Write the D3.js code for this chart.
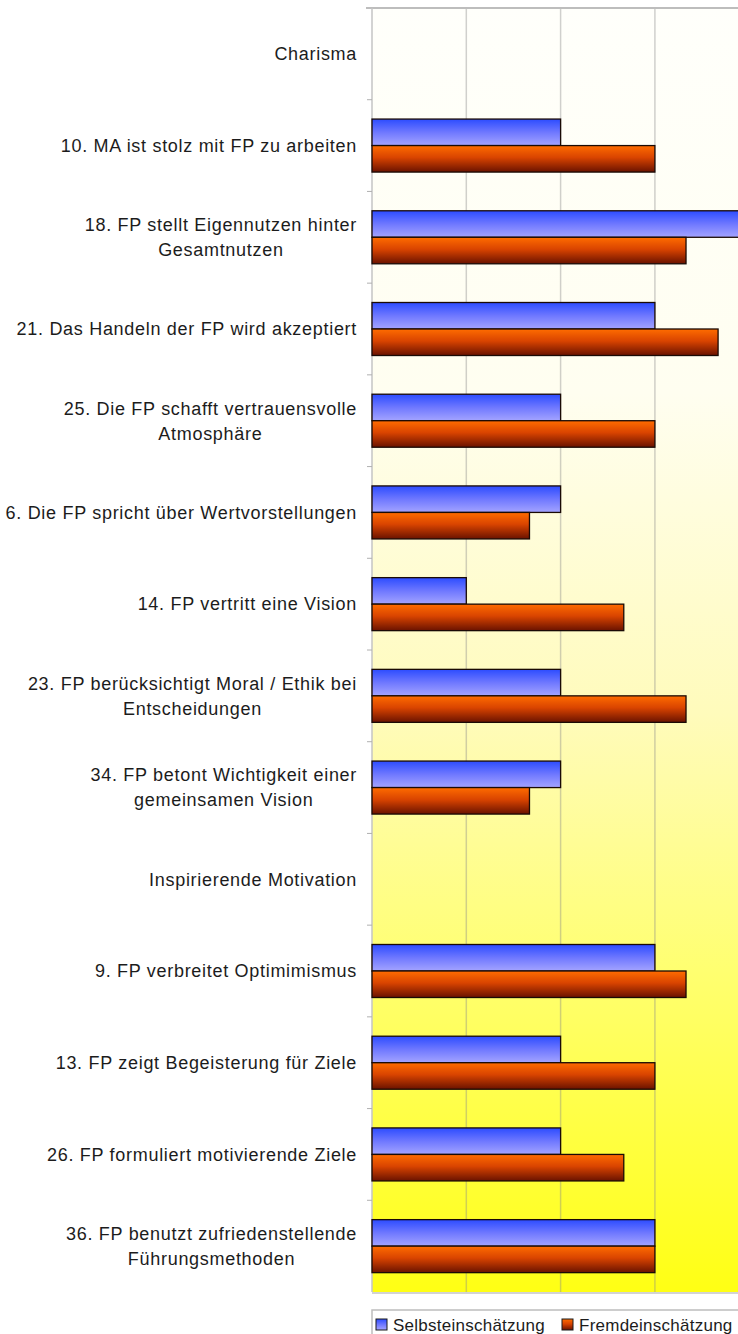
<!DOCTYPE html>
<html>
<head>
<meta charset="utf-8">
<script src="https://cdn.jsdelivr.net/npm/d3@7"></script>
<style>
  html, body { margin: 0; padding: 0; background: #ffffff; }
  svg { display: block; }
  text { font-family: "Liberation Sans", Arial, sans-serif; }
</style>
</head>
<body>
<svg id="chart" width="738" height="1334"></svg>
<script>
// Items of the questionnaire (group headings have no bars)
const categories = [
  ["Charisma"],
  ["10. MA ist stolz mit FP zu arbeiten"],
  ["18. FP stellt Eigennutzen hinter", "Gesamtnutzen"],
  ["21. Das Handeln der FP wird akzeptiert"],
  ["25. Die FP schafft vertrauensvolle", "Atmosphäre"],
  ["6. Die FP spricht über Wertvorstellungen"],
  ["14. FP vertritt eine Vision"],
  ["23. FP berücksichtigt Moral / Ethik bei", "Entscheidungen"],
  ["34. FP betont Wichtigkeit einer", "gemeinsamen Vision"],
  ["Inspirierende Motivation"],
  ["9. FP verbreitet Optimimismus"],
  ["13. FP zeigt Begeisterung für Ziele"],
  ["26. FP formuliert motivierende Ziele"],
  ["36. FP benutzt zufriedenstellende", "Führungsmethoden"]
];
const seriesNames = ["Selbsteinschätzung", "Fremdeinschätzung"];
const selbst = [null, 2, 4, 3, 2, 2, 1, 2, 2, null, 3, 2, 2, 3];
const fremd  = [null, 3, 3.33, 3.67, 3, 1.67, 2.67, 3.33, 1.67, null, 3.33, 3, 2.67, 3];
const xTicks = [0, 1, 2, 3, 4];

const svg = d3.select("#chart");
const W = 738;
const plot = { left: 372, top: 8, bottom: 1292 };

const x = d3.scaleLinear().domain([0, 4]).range([plot.left, plot.left + 4 * 94.3]);
const y = d3.scaleBand().domain(d3.range(categories.length)).range([plot.top, plot.bottom]).padding(0);
const sub = d3.scaleBand().domain(seriesNames).range([0, y.bandwidth()]).paddingInner(0).paddingOuter(0.73);

const defs = svg.append("defs");
const bg = defs.append("linearGradient").attr("id", "bgGrad").attr("x1", 0).attr("y1", 0).attr("x2", 0).attr("y2", 1);
[[0, "#fffffb"], [0.3, "#fffef0"], [0.55, "#fffbbb"], [0.75, "#ffff70"], [1, "#ffff14"]]
  .forEach(([o, c]) => bg.append("stop").attr("offset", o).attr("stop-color", c));

const gBlue = defs.append("linearGradient").attr("id", "gradSelbst").attr("x1", 0).attr("y1", 0).attr("x2", 0).attr("y2", 1);
[[0, "#2c4cff"], [0.5, "#6f78ff"], [1, "#a4a4ff"]].forEach(([o, c]) => gBlue.append("stop").attr("offset", o).attr("stop-color", c));
const gOrange = defs.append("linearGradient").attr("id", "gradFremd").attr("x1", 0).attr("y1", 0).attr("x2", 0).attr("y2", 1);
[[0, "#ff6c00"], [0.45, "#d94400"], [1, "#6a1200"]].forEach(([o, c]) => gOrange.append("stop").attr("offset", o).attr("stop-color", c));
const fills = { "Selbsteinschätzung": "url(#gradSelbst)", "Fremdeinschätzung": "url(#gradFremd)" };

// plot background
svg.append("rect")
  .attr("x", plot.left).attr("y", plot.top)
  .attr("width", W - plot.left).attr("height", plot.bottom - plot.top)
  .attr("fill", "url(#bgGrad)");

// vertical gridlines
svg.append("g").selectAll("line").data(xTicks.slice(1)).join("line")
  .attr("x1", d => x(d)).attr("x2", d => x(d))
  .attr("y1", plot.top).attr("y2", plot.bottom)
  .attr("stroke", "#8a8a8a").attr("stroke-opacity", 0.4).attr("stroke-width", 1.5);

// frame lines
svg.append("line").attr("x1", plot.left - 6).attr("x2", W).attr("y1", plot.top).attr("y2", plot.top)
  .attr("stroke", "#bdbdbd").attr("stroke-width", 2);
svg.append("line").attr("x1", plot.left).attr("x2", W).attr("y1", plot.bottom + 1).attr("y2", plot.bottom + 1)
  .attr("stroke", "#c4c4c4").attr("stroke-width", 1.5);

// category axis (left) with tick marks between bands
svg.append("line").attr("x1", plot.left).attr("x2", plot.left).attr("y1", plot.top).attr("y2", plot.bottom)
  .attr("stroke", "#c4c4c4").attr("stroke-width", 1.5);
svg.append("g").selectAll("line").data(d3.range(1, categories.length)).join("line")
  .attr("x1", plot.left - 5).attr("x2", plot.left)
  .attr("y1", d => y(d)).attr("y2", d => y(d))
  .attr("stroke", "#b0b0b0").attr("stroke-width", 1);

// bars
const rows = categories.map((c, i) => ({ i, values: [selbst[i], fremd[i]] }));
const rowG = svg.append("g").selectAll("g").data(rows).join("g")
  .attr("transform", d => `translate(0,${y(d.i)})`);
rowG.selectAll("rect")
  .data(d => seriesNames.map((s, k) => ({ s, v: d.values[k] })).filter(e => e.v != null))
  .join("rect")
  .attr("x", x(0))
  .attr("y", e => sub(e.s))
  .attr("width", e => x(e.v) - x(0))
  .attr("height", sub.bandwidth())
  .attr("fill", e => fills[e.s])
  .attr("stroke", "#1a0a05").attr("stroke-width", 1.3);

// category labels: block right-aligned, lines centred within the block
const labelRight = 357;
const lineH = 25;
categories.forEach((lines, i) => {
  const cy = y(i) + y.bandwidth() / 2;
  const g = svg.append("g");
  const texts = lines.map((ln, k) => g.append("text")
    .attr("y", cy + (k - (lines.length - 1) / 2) * lineH)
    .attr("dy", "0.35em")
    .attr("font-size", 18)
    .attr("letter-spacing", 0.7)
    .attr("fill", "#1c1c1c")
    .attr("text-anchor", "middle")
    .text(ln));
  const maxW = d3.max(texts, t => t.node().getComputedTextLength());
  texts.forEach(t => t.attr("x", labelRight - maxW / 2));
});

// legend
const leg = svg.append("g");
leg.append("rect").attr("x", plot.left).attr("y", 1310).attr("width", W - plot.left + 10).attr("height", 40)
  .attr("fill", "#ffffff").attr("stroke", "#bdbdbd").attr("stroke-width", 1.5);
const legX = [376, 562];
seriesNames.forEach((s, k) => {
  leg.append("rect").attr("x", legX[k]).attr("y", 1319).attr("width", 11).attr("height", 11)
    .attr("fill", fills[s]).attr("stroke", "#1a1a1a").attr("stroke-width", 1);
  leg.append("text").attr("x", legX[k] + 17).attr("y", 1325).attr("dy", "0.35em")
    .attr("font-size", 17).attr("letter-spacing", 0.25).attr("fill", "#1c1c1c").text(s);
});
</script>
</body>
</html>
